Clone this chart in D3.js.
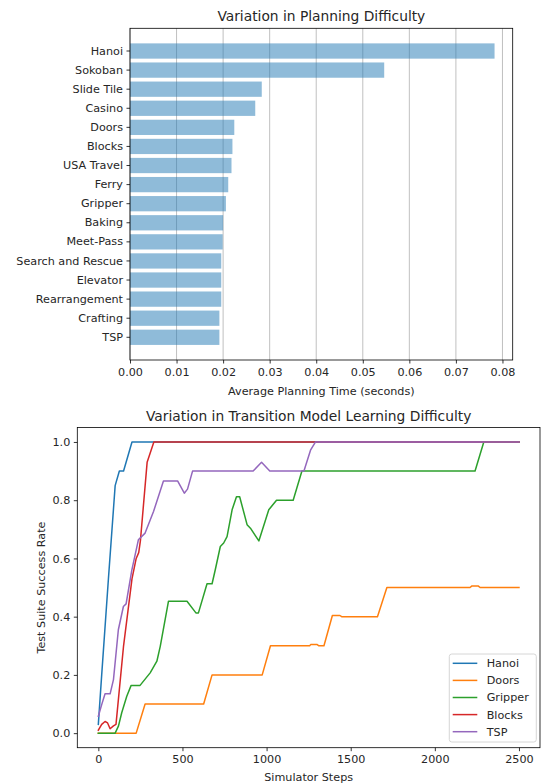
<!DOCTYPE html>
<html>
<head>
<meta charset="utf-8">
<script src="https://cdn.jsdelivr.net/npm/d3@7"></script>
<style>
  body { margin: 0; background: #fff; }
  svg { display: block; }
</style>
</head>
<body>
<div id="container"></div>
<script>
// top chart data
const domains = ["Hanoi", "Sokoban", "Slide Tile", "Casino", "Doors", "Blocks", "USA Travel", "Ferry",
  "Gripper", "Baking", "Meet-Pass", "Search and Rescue", "Elevator", "Rearrangement", "Crafting", "TSP"];
const planTimes = [0.0783, 0.0546, 0.0283, 0.0269, 0.0224, 0.0220, 0.0218, 0.0211,
  0.0206, 0.0200, 0.0199, 0.0196, 0.0196, 0.0196, 0.0192, 0.0192];
const planTicks = [0, 0.01, 0.02, 0.03, 0.04, 0.05, 0.06, 0.07, 0.08];

// bottom chart data: [steps, success rate]
const hanoi = [[0, 0.03], [20, 0.2], [60, 0.53], [100, 0.85], [125, 0.9], [150, 0.9], [200, 1.0], [2500, 1.0]];
const doors = [[0, 0], [225, 0], [278, 0.1], [626, 0.1], [676, 0.2], [974, 0.2], [1023, 0.3], [1256, 0.3],
  [1262, 0.304], [1301, 0.304], [1311, 0.3], [1341, 0.3], [1391, 0.404], [1436, 0.404], [1446, 0.4],
  [1659, 0.4], [1715, 0.5], [2209, 0.5], [2219, 0.505], [2259, 0.505], [2269, 0.5], [2500, 0.5]];
const gripper = [[0, 0], [100, 0], [120, 0.025], [139, 0.07], [169, 0.127], [195, 0.164], [248, 0.164],
  [308, 0.207], [348, 0.247], [368, 0.298], [417, 0.453], [527, 0.453], [580, 0.413], [595, 0.413],
  [646, 0.513], [676, 0.513], [695, 0.561], [725, 0.641], [745, 0.653], [765, 0.675], [795, 0.767],
  [821, 0.812], [840, 0.812], [884, 0.716], [904, 0.704], [954, 0.66], [1013, 0.767], [1059, 0.8],
  [1158, 0.8], [1210, 0.9], [2239, 0.9], [2291, 1.0], [2500, 1.0]];
const blocks = [[0, 0.01], [20, 0.03], [40, 0.04], [55, 0.035], [70, 0.015], [90, 0.025], [105, 0.03],
  [150, 0.3], [200, 0.53], [225, 0.6], [240, 0.62], [250, 0.66], [290, 0.93], [330, 1.0], [2500, 1.0]];
const tsp = [[0, 0.058], [20, 0.098], [40, 0.135], [70, 0.135], [90, 0.184], [119, 0.355], [149, 0.435],
  [165, 0.444], [199, 0.56], [238, 0.664], [278, 0.687], [328, 0.761], [387, 0.866], [471, 0.866],
  [511, 0.824], [530, 0.838], [560, 0.9], [920, 0.9], [970, 0.93], [1019, 0.9], [1222, 0.9],
  [1262, 0.973], [1291, 1.0], [2500, 1.0]];

const seriesNames = ["Hanoi", "Doors", "Gripper", "Blocks", "TSP"];
const seriesData = [hanoi, doors, gripper, blocks, tsp];
const colors = ["#1f77b4", "#ff7f0e", "#2ca02c", "#d62728", "#9467bd"];
const stepTicks = [0, 500, 1000, 1500, 2000, 2500];
const rateTicks = [0, 0.2, 0.4, 0.6, 0.8, 1.0];

let width = 548;
let height = 783;
let font = "DejaVu Sans, sans-serif";
let labelSize = 11.2;
let titleSize = 13.8;

const svg = d3.select("#container").append("svg")
  .attr("width", width)
  .attr("height", height)
  .style("font-family", font);

let styleAxis = g => {
  g.select(".domain").remove();
  g.selectAll("line").attr("stroke-width", 0.8);
  g.selectAll("text").attr("font-size", labelSize).attr("fill", "#262626").attr("font-family", font);
};

// ---------- top: horizontal bars ----------
const box1 = {left: 130, right: 512.7, top: 28.3, bottom: 360};

const x1 = d3.scaleLinear().domain([0, 0.0822]).range([box1.left, box1.right]);
const y1 = d3.scaleBand().domain(domains).range([box1.top, box1.bottom])
  .paddingInner(0.2).paddingOuter(0.79);

const g1 = svg.append("g");

g1.append("g")
  .selectAll("line")
  .data(planTicks)
  .join("line")
  .attr("x1", d => x1(d)).attr("x2", d => x1(d))
  .attr("y1", box1.top).attr("y2", box1.bottom)
  .attr("stroke", "#b0b0b0")
  .attr("stroke-width", 0.8);

g1.append("g")
  .selectAll("rect")
  .data(domains)
  .join("rect")
  .attr("x", x1(0))
  .attr("y", d => y1(d))
  .attr("width", (d, i) => x1(planTimes[i]) - x1(0))
  .attr("height", y1.bandwidth())
  .attr("fill", "#1f77b4")
  .attr("fill-opacity", 0.5);

g1.append("g")
  .attr("transform", `translate(0,${box1.bottom})`)
  .call(d3.axisBottom(x1).tickValues(planTicks).tickFormat(d3.format(".2f")).tickSize(3.5).tickPadding(4.5))
  .call(styleAxis);

g1.append("g")
  .attr("transform", `translate(${box1.left},0)`)
  .call(d3.axisLeft(y1).tickSize(3.5).tickPadding(3.5))
  .call(styleAxis);

g1.append("rect")
  .attr("x", box1.left).attr("y", box1.top)
  .attr("width", box1.right - box1.left).attr("height", box1.bottom - box1.top)
  .attr("fill", "none").attr("stroke", "#000").attr("stroke-width", 0.8);

g1.append("text")
  .attr("x", (box1.left + box1.right) / 2).attr("y", 21)
  .attr("text-anchor", "middle")
  .attr("font-size", titleSize)
  .attr("fill", "#262626")
  .text("Variation in Planning Difficulty");

g1.append("text")
  .attr("x", (box1.left + box1.right) / 2).attr("y", 394.5)
  .attr("text-anchor", "middle")
  .attr("font-size", labelSize)
  .attr("fill", "#262626")
  .text("Average Planning Time (seconds)");

// ---------- bottom: learning curves ----------
const box2 = {left: 77.3, right: 540, top: 427.4, bottom: 747.7};

const x2 = d3.scaleLinear().domain([-125, 2625]).range([box2.left, box2.right]);
const y2 = d3.scaleLinear().domain([-0.05, 1.05]).range([box2.bottom, box2.top]);

const g2 = svg.append("g");

g2.append("g")
  .attr("transform", `translate(0,${box2.bottom})`)
  .call(d3.axisBottom(x2).tickValues(stepTicks).tickFormat(d3.format("d")).tickSize(3.5).tickPadding(3.5))
  .call(styleAxis);

g2.append("g")
  .attr("transform", `translate(${box2.left},0)`)
  .call(d3.axisLeft(y2).tickValues(rateTicks).tickFormat(d3.format(".1f")).tickSize(3.5).tickPadding(3.5))
  .call(styleAxis);

let line = d3.line()
  .x(d => x2(d[0]))
  .y(d => y2(d[1]));

g2.append("g")
  .attr("fill", "none")
  .attr("stroke-width", 1.5)
  .attr("stroke-linejoin", "round")
  .attr("stroke-linecap", "square")
  .selectAll("path")
  .data(seriesData)
  .join("path")
  .attr("stroke", (d, i) => colors[i])
  .attr("d", line);

g2.append("rect")
  .attr("x", box2.left).attr("y", box2.top)
  .attr("width", box2.right - box2.left).attr("height", box2.bottom - box2.top)
  .attr("fill", "none").attr("stroke", "#000").attr("stroke-width", 0.8);

g2.append("text")
  .attr("x", (box2.left + box2.right) / 2).attr("y", 421)
  .attr("text-anchor", "middle")
  .attr("font-size", titleSize)
  .attr("fill", "#262626")
  .text("Variation in Transition Model Learning Difficulty");

g2.append("text")
  .attr("x", (box2.left + box2.right) / 2).attr("y", 780.5)
  .attr("text-anchor", "middle")
  .attr("font-size", labelSize)
  .attr("fill", "#262626")
  .text("Simulator Steps");

g2.append("text")
  .attr("transform", `translate(45,${(box2.top + box2.bottom) / 2}) rotate(-90)`)
  .attr("text-anchor", "middle")
  .attr("font-size", labelSize)
  .attr("fill", "#262626")
  .text("Test Suite Success Rate");

// legend, lower right
const legend = g2.append("g").attr("transform", "translate(449.3,654)");

legend.append("rect")
  .attr("width", 87).attr("height", 88).attr("rx", 2.5)
  .attr("fill", "#fff").attr("fill-opacity", 0.8)
  .attr("stroke", "#cccccc").attr("stroke-width", 0.8);

const item = legend.selectAll("g.item")
  .data(seriesNames)
  .join("g")
  .attr("class", "item")
  .attr("transform", (d, i) => `translate(0,${9.3 + i * 17.1})`);

item.append("line")
  .attr("x1", 3.4).attr("x2", 28)
  .attr("stroke", (d, i) => colors[i])
  .attr("stroke-width", 1.5);

item.append("text")
  .attr("x", 37.4).attr("dy", "0.35em")
  .attr("font-size", labelSize)
  .attr("fill", "#262626")
  .text(d => d);
</script>
</body>
</html>
